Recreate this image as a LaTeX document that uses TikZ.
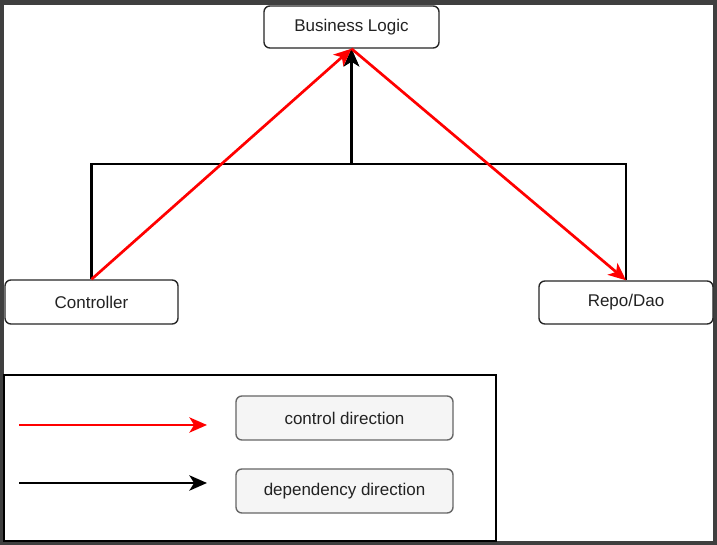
\documentclass[tikz,border=0pt]{standalone}
\usepackage{fontspec}
\setmainfont{Liberation Sans}
\usetikzlibrary{arrows.meta}
\definecolor{framegray}{HTML}{3F3F3F}
\definecolor{keyfill}{HTML}{F5F5F5}
\definecolor{keyline}{HTML}{666666}
\definecolor{ctrlred}{HTML}{FF0000}
\definecolor{txtgray}{HTML}{222222}
\tikzset{
  layerbox/.style={draw=black!85, line width=1.2pt, rounded corners=5pt, fill=white,
    font=\fontsize{14.5}{17}\selectfont, text=txtgray, inner sep=0pt},
  keybox/.style={draw=keyline, line width=1.2pt, rounded corners=5pt, fill=keyfill,
    font=\fontsize{14.5}{17}\selectfont, text=txtgray, inner sep=0pt,
    minimum width=6.51cm, minimum height=1.32cm},
  ctrl/.style={draw=ctrlred, line width=2.3pt, -{Stealth[length=15pt,width=13pt,inset=4pt]}},
  dep/.style={draw=black, line width=2.5pt, -{Stealth[length=15pt,width=13pt,inset=4pt]}}
}
\begin{document}
\begin{tikzpicture}[x=0.03cm,y=-0.03cm]
% frame
\fill[framegray] (0,0) rectangle (717,545);
\fill[white] (4,5) rectangle (713,541);
\useasboundingbox (0,0) rectangle (717,545);

% layers
\node[layerbox, minimum width=5.25cm, minimum height=1.26cm] (biz) at (351.5,27) {Business Logic};
\node[layerbox, minimum width=5.19cm, minimum height=1.32cm] (ctrl) at (91.5,302) {Controller};
\node[layerbox, minimum width=5.22cm, minimum height=1.29cm] (repo) at (626,302.5) {Repo/Dao};
\coordinate (joint) at (351.5,164);

% dependency direction
\draw[dep] (ctrl.north) |- (joint) -- (biz.south);
\draw[dep] (repo.north) |- (joint) -- (biz.south);

% control direction
\draw[ctrl] (ctrl.north) -- (biz.south);
\draw[ctrl] (biz.south) -- (repo.north);

% legend
\draw[line width=1.1pt] (4,375) rectangle (496,541);
\node[keybox] (ctrlkey) at (344.5,418) {control direction};
\node[keybox] (depkey) at (344.5,491) {dependency direction};
\coordinate (ctrlA) at (19,425);
\coordinate (ctrlB) at (207,425);
\coordinate (depA) at (19,483);
\coordinate (depB) at (207,483);
\draw[ctrl] (ctrlA) -- (ctrlB);
\draw[dep] (depA) -- (depB);
\end{tikzpicture}
\end{document}
